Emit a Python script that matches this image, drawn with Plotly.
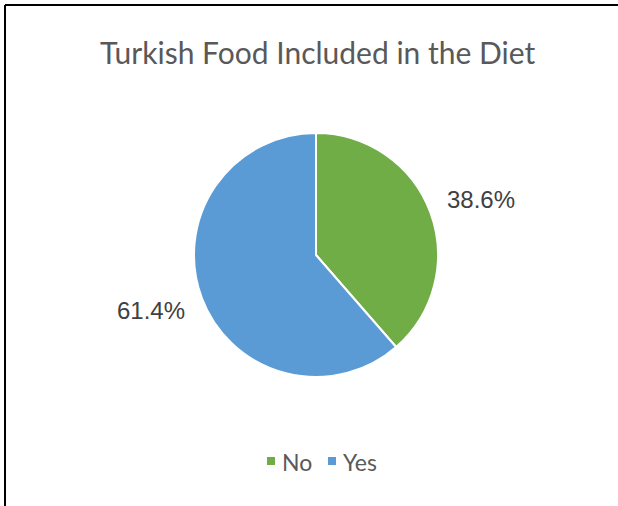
import math
import plotly.graph_objects as go

labels = ["No", "Yes"]
values = [38.6, 61.4]
colors = ["#70AD47", "#5B9BD5"]
title_text = "Turkish Food Included in the Diet"

W, H = 618, 506
cx, cy, R = 316, 255, 122  # pie centre and radius in pixels

fig = go.Figure(
    go.Pie(
        labels=labels,
        values=values,
        sort=False,
        direction="clockwise",
        rotation=0,
        marker=dict(colors=colors, line=dict(color="white", width=2)),
        textinfo="none",
        hoverinfo="label+percent",
        showlegend=False,
        domain=dict(x=[(cx - R) / W, (cx + R) / W], y=[(H - cy - R) / H, (H - cy + R) / H]),
    )
)

# percentage labels placed outside each slice, just ahead of its mid-angle
total = sum(values)
start = 0.0
annotations = []
for lab, v in zip(labels, values):
    mid = (start + v / 2) / total * 2 * math.pi - 0.05
    start += v
    rl = R * 1.15
    px = cx + rl * math.sin(mid)
    py = cy - rl * math.cos(mid)
    annotations.append(
        dict(
            x=px / W, y=1 - py / H, xref="paper", yref="paper",
            text=f"{v:.1f}%", showarrow=False,
            font=dict(family="Liberation Sans, Arial", size=24, color="#404040"),
            xanchor="left" if math.sin(mid) >= 0 else "right", yanchor="middle",
        )
    )

annotations.append(
    dict(
        x=317 / W, y=1 - 52 / H, xref="paper", yref="paper",
        text=title_text, showarrow=False,
        font=dict(family="Lato, Open Sans", size=30, color="#595959"),
        xanchor="center", yanchor="middle",
    )
)

# legend drawn as square swatches with text beside them
shapes = []
legend_x = [267, 328]
legend_y = 461
for lab, col, lx in zip(labels, colors, legend_x):
    shapes.append(
        dict(type="rect", xref="paper", yref="paper",
             x0=lx / W, x1=(lx + 8) / W, y0=1 - (legend_y + 4) / H, y1=1 - (legend_y - 4) / H,
             fillcolor=col, line=dict(width=0))
    )
    annotations.append(
        dict(
            x=(lx + 13) / W, y=1 - (legend_y + 1) / H, xref="paper", yref="paper",
            text=lab, showarrow=False,
            font=dict(family="Lato, Open Sans", size=23, color="#595959"),
            xanchor="left", yanchor="middle",
        )
    )

# keep the right-hand edge clear, then frame the top and left edges
shapes += [
    dict(type="rect", xref="paper", yref="paper", x0=(W - 10) / W, x1=1, y0=0, y1=1,
         fillcolor="white", line=dict(width=0)),
    dict(type="line", xref="paper", yref="paper", x0=5 / W, x1=1, y0=1 - 5 / H, y1=1 - 5 / H,
         line=dict(color="black", width=2)),
    dict(type="line", xref="paper", yref="paper", x0=5 / W, x1=5 / W, y0=0, y1=1 - 5 / H,
         line=dict(color="black", width=2)),
]

fig.update_layout(
    width=W, height=H,
    margin=dict(l=0, r=0, t=0, b=0),
    paper_bgcolor="white",
    plot_bgcolor="white",
    annotations=annotations,
    showlegend=False,
    shapes=shapes,
)

fig.write_html(
    "out.html",
    default_width=f"{W}px",
    default_height=f"{H}px",
    post_script=(
        "document.documentElement.style.overflow='hidden';"
        "document.body.style.margin='0';document.body.style.overflow='hidden';"
    ),
)
